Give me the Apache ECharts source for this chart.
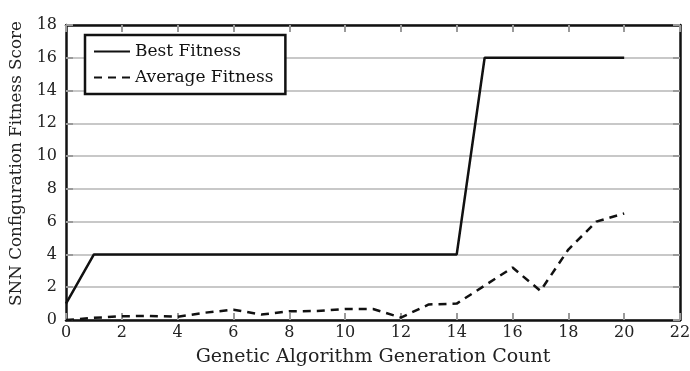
<!DOCTYPE html>
<html><head><meta charset="utf-8">
<script src="https://cdn.jsdelivr.net/npm/echarts@6/dist/echarts.min.js"></script>
<style>html,body{margin:0;padding:0;background:#fff}#c{width:690px;height:371px}</style>
</head><body><div id="c"></div>
<script>
const generations = [0,1,2,3,4,5,6,7,8,9,10,11,12,13,14,15,16,17,18,19,20];
const bestFitness = [1,4,4,4,4,4,4,4,4,4,4,4,4,4,4,16,16,16,16,16,16];
const averageFitness = [0,0.13,0.23,0.25,0.2,0.45,0.63,0.33,0.53,0.55,0.67,0.67,0.15,0.95,1.0,2.1,3.2,1.78,4.3,6.0,6.5];
const xTicks = [0,2,4,6,8,10,12,14,16,18,20,22];
const yTicks = [0,2,4,6,8,10,12,14,16,18];

const FONT = 'DejaVu Serif';
const chart = echarts.init(document.getElementById('c'));
const gridLine = {show:true, lineStyle:{color:'#c8c8c8', width:2}};
const tick = {show:true, inside:true, length:7, lineStyle:{color:'#9a9a9a', width:2}};
const frame = {show:true, onZero:false, lineStyle:{color:'#111', width:2.5}};
chart.setOption({
  animation:false,
  textStyle:{fontFamily:FONT},
  grid:{left:66, right:10, top:25, bottom:51, containLabel:false, outerBoundsMode:'none'},
  legend:{
    orient:'vertical', left:85, top:35,
    backgroundColor:'#fff', borderColor:'#111', borderWidth:2.5,
    padding:[8,12,8,8], itemGap:9, itemWidth:36, itemHeight:14,
    itemStyle:{color:'transparent', borderWidth:0, opacity:0},
    textStyle:{fontFamily:FONT, fontSize:17, color:'#111'},
    data:['Best Fitness','Average Fitness']
  },
  xAxis:[
    {type:'value', min:0, max:22, interval:2, position:'bottom',
     axisLine:frame, axisTick:tick, splitLine:{show:false},
     axisLabel:{fontFamily:FONT, fontSize:16, color:'#222', margin:5},
     name:'Genetic Algorithm Generation Count', nameLocation:'middle', nameGap:28,
     nameTextStyle:{fontFamily:FONT, fontSize:19, color:'#222'}},
    {type:'value', min:0, max:22, interval:2, position:'top',
     axisLine:frame, axisTick:tick, splitLine:{show:false}, axisLabel:{show:false}}
  ],
  yAxis:[
    {type:'value', min:0, max:18, interval:2, position:'left',
     axisLine:frame, axisTick:tick, splitLine:gridLine,
     axisLabel:{fontFamily:FONT, fontSize:16, color:'#222', margin:9},
     name:'SNN Configuration Fitness Score', nameLocation:'middle', nameGap:41,
     nameTextStyle:{fontFamily:FONT, fontSize:16.8, color:'#222', padding:[0,0,0,18]}},
    {type:'value', min:0, max:18, interval:2, position:'right',
     axisLine:frame, axisTick:tick, splitLine:{show:false}, axisLabel:{show:false}}
  ],
  series:[
    {name:'Best Fitness', type:'line', symbol:'none',
     data:generations.map((g,i)=>[g,bestFitness[i]]),
     lineStyle:{color:'#111', width:2.5, type:'solid'}, itemStyle:{color:'#111'}},
    {name:'Average Fitness', type:'line', symbol:'none',
     data:generations.map((g,i)=>[g,averageFitness[i]]),
     lineStyle:{color:'#111', width:2.5, type:[8,6]}, itemStyle:{color:'#111'}}
  ]
});
</script></body></html>
